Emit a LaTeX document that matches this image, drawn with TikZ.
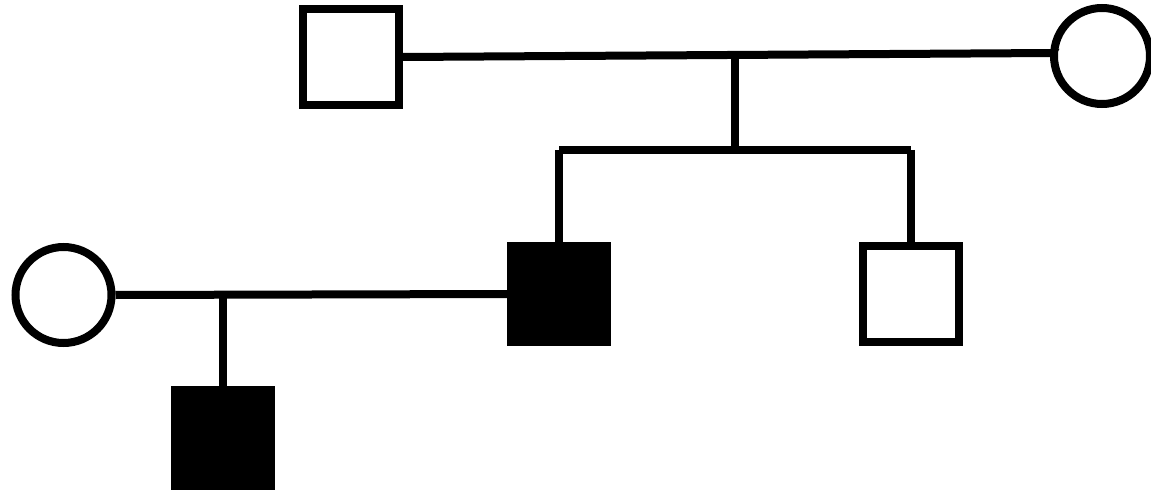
\documentclass[tikz,border=0pt]{standalone}
\begin{document}
\begin{tikzpicture}[x=1pt,y=-1pt,
  ln/.style={line width=8pt,black},
  male/.style={draw,line width=8pt,rectangle,minimum size=96pt,inner sep=0pt,fill=white},
  affm/.style={draw,line width=8pt,rectangle,minimum size=96pt,inner sep=0pt,fill=black},
  fem/.style={draw,line width=8pt,circle,minimum size=96pt,inner sep=0pt,fill=white}]
\useasboundingbox (0,0) rectangle (1151,492);
\node[male] (f1) at (350.5,57) {};
\node[fem] (m1) at (1102,56) {};
\node[affm] (a) at (559,294) {};
\node[male] (b) at (911,294) {};
\node[fem] (w) at (63.5,295) {};
\node[affm] (d) at (223,438) {};
\coordinate (p1) at (403,57);
\coordinate (p2) at (1052,53);
\coordinate (c1) at (735,55.5);
\coordinate (c1b) at (735,146);
\coordinate (s1) at (559,150);
\coordinate (s2) at (911,150);
\coordinate (c2) at (223,294);
\draw[ln] (f1.east) -- (p1) -- (p2) -- (m1.west);
\draw[ln] (c1) -- (c1b);
\draw[ln] (s1) -- (s2);
\draw[ln] (w.east) -- (a.west);
\draw[ln] (s1) -- (a.north);
\draw[ln] (s2) -- (b.north);
\draw[ln] (c2) -- (d.north);
\end{tikzpicture}
\end{document}
